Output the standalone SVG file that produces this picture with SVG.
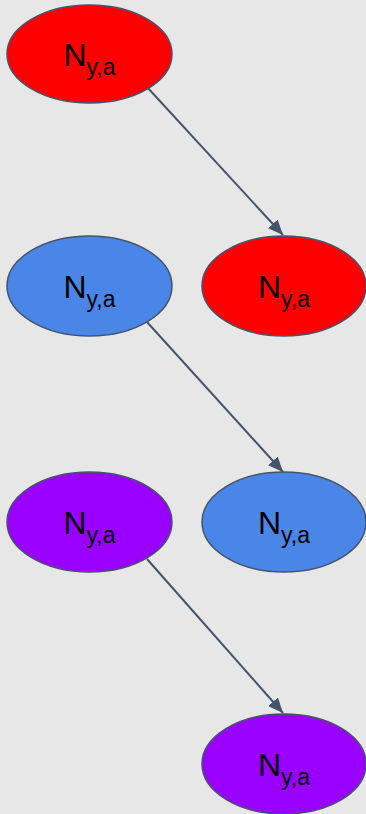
<svg xmlns="http://www.w3.org/2000/svg" width="366" height="814" viewBox="0 0 366 814">
<defs>
<marker id="ah" markerWidth="15" markerHeight="13" refX="15" refY="6.5" orient="auto" markerUnits="userSpaceOnUse" viewBox="0 0 15 13">
<path d="M0,0 L15,6.5 L0,13 z" fill="#44546A"/>
</marker>
</defs>
<style>
.n{stroke:#44546A;stroke-width:1.5}
.t{font-family:"Liberation Sans",Arial,sans-serif;font-size:32px;fill:#000}
.s{font-size:23px}
.c{stroke:#44546A;stroke-width:2;fill:none;marker-end:url(#ah)}
</style>
<rect width="366" height="814" fill="#E7E7E7"/>
<g id="connectors">
<line class="c" x1="147" y1="87" x2="283" y2="235"/>
<line class="c" x1="147" y1="322" x2="283" y2="472"/>
<line class="c" x1="147" y1="559" x2="283" y2="713"/>
</g>
<g id="node1"><ellipse class="n" cx="89.5" cy="54" rx="82.5" ry="49" fill="#FF0000"/><text class="t" x="89.5" y="66" text-anchor="middle">N<tspan class="s" dy="9">y,a</tspan></text></g>
<g id="node2"><ellipse class="n" cx="284" cy="286" rx="82" ry="50" fill="#FF0000"/><text class="t" x="284" y="298" text-anchor="middle">N<tspan class="s" dy="9">y,a</tspan></text></g>
<g id="node3"><ellipse class="n" cx="89.5" cy="286" rx="82.5" ry="50" fill="#4A86E8"/><text class="t" x="89.5" y="298" text-anchor="middle">N<tspan class="s" dy="9">y,a</tspan></text></g>
<g id="node4"><ellipse class="n" cx="284" cy="522" rx="82" ry="50" fill="#4A86E8"/><text class="t" x="284" y="534" text-anchor="middle">N<tspan class="s" dy="9">y,a</tspan></text></g>
<g id="node5"><ellipse class="n" cx="89.5" cy="522" rx="82.5" ry="50" fill="#9900FF"/><text class="t" x="89.5" y="534" text-anchor="middle">N<tspan class="s" dy="9">y,a</tspan></text></g>
<g id="node6"><ellipse class="n" cx="284" cy="764" rx="82" ry="50" fill="#9900FF"/><text class="t" x="284" y="776" text-anchor="middle">N<tspan class="s" dy="9">y,a</tspan></text></g>
</svg>
